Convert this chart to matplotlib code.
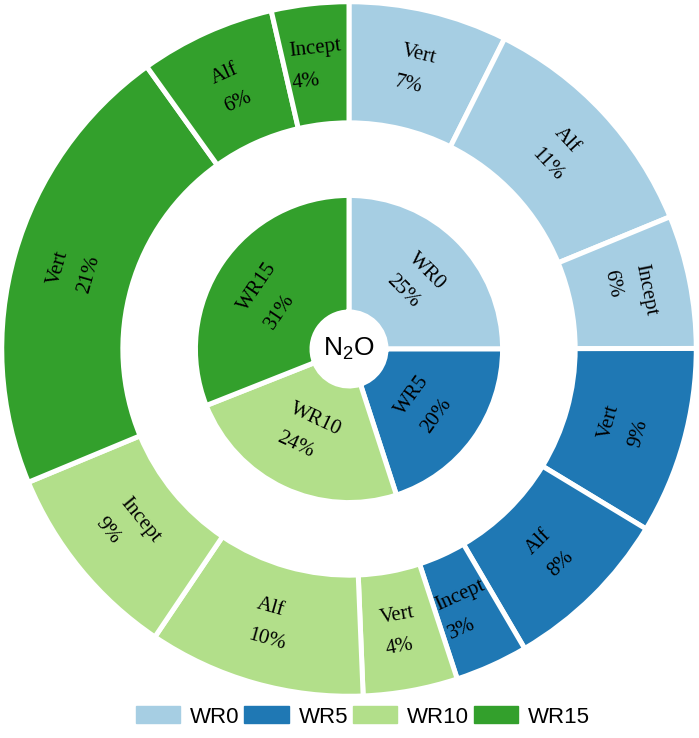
import matplotlib
matplotlib.use("Agg")
import matplotlib.pyplot as plt
import matplotlib.patches as mpatches
import numpy as np

# ── Data ─────────────────────────────────────────────────────────────────────
groups = ["WR0", "WR5", "WR10", "WR15"]
group_share = [25, 20, 24, 31]
group_colors = ["#a6cee3", "#1f78b4", "#b2df8a", "#33a02c"]

soil_types = ["Vert", "Alf", "Incept"]
# outer ring, per group in order Vert, Alf, Incept (% of total N2O)
wr0_soils = [7.4, 11.4, 6.2]
wr5_soils = [8.7, 7.9, 3.4]
wr10_soils = [4.4, 10.1, 9.3]
wr15_soils = [21.4, 6.3, 3.6]

outer_vals = wr0_soils + wr5_soils + wr10_soils + wr15_soils
outer_names = soil_types * len(groups)
outer_colors = [c for c in group_colors for _ in soil_types]

# ── Plot ─────────────────────────────────────────────────────────────────────
W, H = 699, 738
fig = plt.figure(figsize=(W / 100, H / 100), dpi=100)
fig.patch.set_facecolor("white")
ax = fig.add_axes([0, 40 / H, 698 / W, 698 / H])

edge = {"edgecolor": "white", "linewidth": 3.6}
outer_w, _ = ax.pie(outer_vals, radius=0.995, colors=outer_colors,
                    startangle=90, counterclock=False,
                    wedgeprops=dict(width=0.995 - 0.648, **edge))
inner_w, _ = ax.pie(group_share, radius=0.44, colors=group_colors,
                    startangle=90, counterclock=False,
                    wedgeprops=dict(width=0.44 - 0.106, **edge))
ax.set_xlim(-1, 1)
ax.set_ylim(-1, 1)
ax.set_aspect("equal")
ax.axis("off")

serif = ["Liberation Serif", "DejaVu Serif"]


def put_label(wedge, text, r):
    mid = (wedge.theta1 + wedge.theta2) / 2.0
    x, y = r * np.cos(np.radians(mid)), r * np.sin(np.radians(mid))
    rot = (mid - 90) % 180
    if rot > 90:
        rot -= 180
    ax.text(x, y, text, ha="center", va="center", rotation=rot,
            rotation_mode="anchor", multialignment="left",
            linespacing=1.9, fontsize=15, family=serif, color="black")


for w, name, v in zip(outer_w, outer_names, outer_vals):
    put_label(w, f"{name}\n{round(v)}%", 0.82)

for w, name, v in zip(inner_w, groups, group_share):
    put_label(w, f"{name}\n{v}%", 0.27)

ax.text(0, 0, r"N$_\mathregular{2}$O", ha="center", va="center",
        fontsize=19, family=["Liberation Sans", "DejaVu Sans"])

handles = [mpatches.Patch(color=c, label=g) for g, c in zip(groups, group_colors)]
fig.legend(handles=handles, loc="center", bbox_to_anchor=(363 / W, 21 / H),
           ncol=4, frameon=False, handlelength=2.0, handleheight=0.8,
           handletextpad=0.45, columnspacing=0.2,
           prop={"family": "Liberation Sans", "size": 16})

fig.savefig("out.png", dpi=100, facecolor="white")
plt.close(fig)
